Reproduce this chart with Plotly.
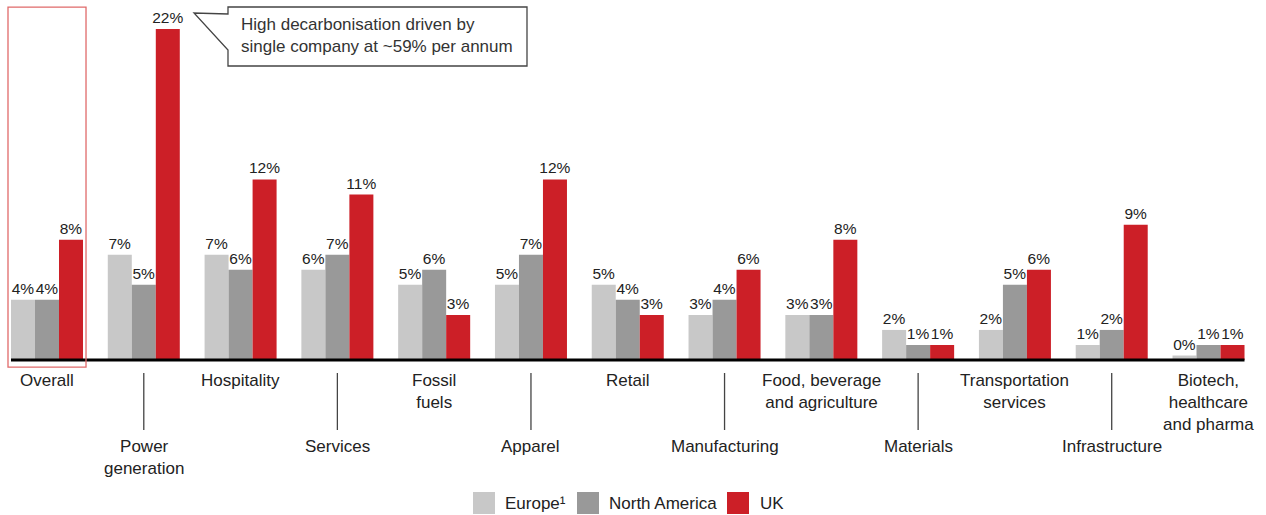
# Decarbonisation rate by sector: Europe vs North America vs UK

import plotly.graph_objects as go

categories = ["Overall", "Power<br>generation", "Hospitality", "Services", "Fossil<br>fuels",
              "Apparel", "Retail", "Manufacturing", "Food, beverage<br>and agriculture",
              "Materials", "Transportation<br>services", "Infrastructure",
              "Biotech,<br>healthcare<br>and pharma"]
europe = [4, 7, 7, 6, 5, 5, 5, 3, 3, 2, 2, 1, 0.3]
north_america = [4, 5, 6, 7, 6, 7, 4, 4, 3, 1, 5, 2, 1]
uk = [8, 22, 12, 11, 3, 12, 3, 6, 8, 1, 6, 9, 1]
series_names = ["Europe\u00b9", "North America", "UK"]
colors = ["#c8c8c8", "#999999", "#cc1f27"]
callout_text = "High decarbonisation driven by<br>single company at ~59% per annum"

W, H = 1266, 515
FONT = "Liberation Sans, Arial, sans-serif"
TXT = "#222222"


def px(x, y):
    # pixel position -> paper coords (margins are zero)
    return x / W, 1 - y / H


fig = go.Figure()
xs = list(range(len(categories)))
for name, vals, col in zip(series_names, [europe, north_america, uk], colors):
    fig.add_trace(go.Bar(
        x=xs, y=vals, name=name, marker_color=col, marker_line_width=0,
        text=[f"{round(v)}%" for v in vals], textposition="outside",
        constraintext="none", cliponaxis=False,
        textfont=dict(size=15.5, color=TXT, family=FONT),
        showlegend=False,
    ))

shapes = []
annotations = []

# axis baseline
shapes.append(dict(type="line", xref="x", yref="y", x0=-0.372, x1=12.372, y0=0, y1=0,
                   line=dict(color="black", width=3)))
# highlight box round "Overall"
shapes.append(dict(type="rect", xref="x", yref="y", x0=-0.403, x1=0.403, y0=-0.465, y1=23.46,
                   line=dict(color="#e06a6a", width=1.3)))

# category labels, alternating high / low
for i, name in enumerate(categories):
    if i % 2 == 0:
        ytop = -0.62
    else:
        ytop = -5.0
        shapes.append(dict(type="line", xref="x", yref="y", x0=i, x1=i, y0=-0.86, y1=-4.65,
                           line=dict(color="#444444", width=1.3)))
    annotations.append(dict(x=i, y=ytop, xref="x", yref="y", text=name, showarrow=False,
                            xanchor="center", yanchor="top", align="center",
                            font=dict(size=17, color=TXT, family=FONT)))

# callout box with pointer
pts = [(228, 7), (527, 7), (527, 66), (228, 66), (228, 50), (194, 13), (228, 14)]
path = "M " + " L ".join("%.5f,%.5f" % px(a, b) for a, b in pts) + " Z"
shapes.append(dict(type="path", xref="paper", yref="paper", path=path,
                   line=dict(color="#444444", width=1.3), fillcolor="white"))
cx, cy = px(239, 35.5)
annotations.append(dict(x=cx, y=cy, xref="paper", yref="paper", text=callout_text,
                        showarrow=False, xanchor="left", yanchor="middle", align="left",
                        font=dict(size=17, color="#333333", family=FONT)))

# legend drawn by hand (big square swatches)
legend_pos = [(473, 503), (577, 607), (727, 758)]
for (sx, tx), name, col in zip(legend_pos, series_names, colors):
    x0, y0 = px(sx, 492)
    x1, y1 = px(sx + 22, 514)
    shapes.append(dict(type="rect", xref="paper", yref="paper", x0=x0, x1=x1, y0=y1, y1=y0,
                       line_width=0, fillcolor=col))
    lx, ly = px(tx, 503)
    annotations.append(dict(x=lx, y=ly, xref="paper", yref="paper", text=name, showarrow=False,
                            xanchor="left", yanchor="middle",
                            font=dict(size=17, color=TXT, family=FONT)))

fig.update_layout(
    width=W, height=H,
    margin=dict(l=0, r=0, t=0, b=0),
    barmode="group", bargap=0.256, bargroupgap=0,
    plot_bgcolor="white", paper_bgcolor="white",
    xaxis=dict(visible=False, range=[-0.4856, 12.594]),
    yaxis=dict(visible=False, range=[-10.30, 23.93]),
    shapes=shapes, annotations=annotations,
    font=dict(family=FONT, color=TXT),
)

# page body has an 8px default margin; drop it so the chart fills the window
fig.write_html("out.html", config={"displayModeBar": False},
               post_script="document.body.style.margin='0';document.body.style.overflow='hidden';")
